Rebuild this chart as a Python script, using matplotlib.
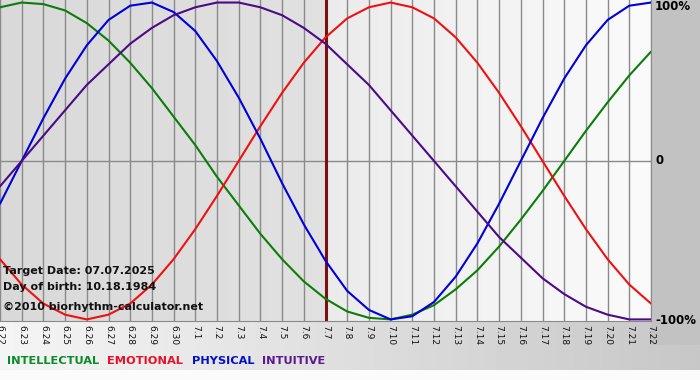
import numpy as np
import matplotlib
matplotlib.use("Agg")
import matplotlib.pyplot as plt

# days shown on the x axis (6.22 .. 7.22)
days = ["6.22", "6.23", "6.24", "6.25", "6.26", "6.27", "6.28", "6.29", "6.30",
        "7.1", "7.2", "7.3", "7.4", "7.5", "7.6", "7.7", "7.8", "7.9", "7.10",
        "7.11", "7.12", "7.13", "7.14", "7.15", "7.16", "7.17", "7.18", "7.19",
        "7.20", "7.21", "7.22"]
target_day = "7.7"

# values, -1 .. 1
physical = [-0.27, 0.00, 0.27, 0.52, 0.73, 0.89, 0.98, 1.00, 0.94, 0.82, 0.63,
            0.40, 0.14, -0.14, -0.40, -0.63, -0.82, -0.94, -1.00, -0.98, -0.89,
            -0.73, -0.52, -0.27, 0.00, 0.27, 0.52, 0.73, 0.89, 0.98, 1.00]
emotional = [-0.62, -0.78, -0.90, -0.97, -1.00, -0.97, -0.90, -0.78, -0.62, -0.43,
             -0.22, 0.00, 0.22, 0.43, 0.62, 0.78, 0.90, 0.97, 1.00, 0.97, 0.90,
             0.78, 0.62, 0.43, 0.22, 0.00, -0.22, -0.43, -0.62, -0.78, -0.90]
intellectual = [0.97, 1.00, 0.99, 0.95, 0.87, 0.76, 0.62, 0.46, 0.28, 0.10, -0.10,
                -0.28, -0.46, -0.62, -0.76, -0.87, -0.95, -0.99, -1.00, -0.97, -0.91,
                -0.81, -0.69, -0.54, -0.37, -0.19, 0.00, 0.19, 0.37, 0.54, 0.69]
intuitive = [-0.16, 0.00, 0.16, 0.32, 0.48, 0.61, 0.74, 0.84, 0.92, 0.97, 1.00,
             1.00, 0.97, 0.92, 0.84, 0.74, 0.61, 0.48, 0.32, 0.16, 0.00, -0.16,
             -0.32, -0.48, -0.61, -0.74, -0.84, -0.92, -0.97, -1.00, -1.00]

series = [("INTELLECTUAL", intellectual, "#0a7d0a"),
          ("EMOTIONAL", emotional, "#ee1111"),
          ("PHYSICAL", physical, "#0000d8"),
          ("INTUITIVE", intuitive, "#4b0a86")]
legend_colors = ["#0a8a2a", "#e8102a", "#0010c8", "#5a1a90"]

W, H = 700, 380
fig = plt.figure(figsize=(W / 100, H / 100), dpi=100)

# background (pixel coordinates)
bg = fig.add_axes([0, 0, 1, 1])
bg.set_xlim(0, W)
bg.set_ylim(H, 0)
bg.axis("off")
band = np.linspace(0.96, 0.78, 200)[None, :]
bg.imshow(np.repeat(band, 2, axis=0), cmap="gray", vmin=0, vmax=1,
          extent=(0, W, 370, 321), aspect="auto")
bg.add_patch(plt.Rectangle((651, 0), 49, 345, color="#c2c2c2", lw=0))
bg.add_patch(plt.Rectangle((0, 370), W, 10, color="#fbfbfb", lw=0))

n = len(days)
x = np.arange(n)
ti = days.index(target_day)

ax = fig.add_axes([0, 1 - 321 / H, 651 / W, 321 / H])
ax.set_facecolor("none")
ax.set_xlim(0, n - 1)
ax.set_ylim(-1.01, 1.016)

# shaded panels left / right of the target date
left = np.linspace(0.85, 0.88, 50)[None, :]
right = np.linspace(0.92, 0.98, 50)[None, :]
ax.imshow(np.repeat(left, 2, axis=0), cmap="gray", vmin=0, vmax=1,
          extent=(0, ti, -1.01, 1.016), aspect="auto", zorder=0)
ax.imshow(np.repeat(right, 2, axis=0), cmap="gray", vmin=0, vmax=1,
          extent=(ti, n - 1, -1.01, 1.016), aspect="auto", zorder=0)

for xi in x:
    ax.axvline(xi, color="#8a8a8a", lw=1.0, zorder=1)
ax.axhline(0, color="#8a8a8a", lw=1.0, zorder=1)
ax.axvline(ti, color="#7a1010", lw=2.2, zorder=2)

for name, vals, col in series:
    ax.plot(x, vals, color=col, lw=1.5, zorder=3, solid_capstyle="round",
            solid_joinstyle="round")

for s in ax.spines.values():
    s.set_visible(False)
ax.spines["bottom"].set_visible(True)
ax.spines["bottom"].set_color("#8a8a8a")
ax.spines["right"].set_visible(True)
ax.spines["right"].set_color("#8a8a8a")

ax.set_xticks(x)
ax.set_xticklabels(days, rotation=270, fontsize=6.5, color="#111111")
ax.tick_params(axis="x", length=0, pad=3)
ax.set_yticks([])

ax.set_ylim(-1.01, 1.016)

# right-hand scale labels (pixel rows from the top)
for ypx, lab in [(7, "100%"), (161, "0"), (321, "-100%")]:
    fig.text(655 / W, 1 - ypx / H, lab, fontsize=8.5, fontweight="bold",
             va="center", ha="left")

txt = dict(fontsize=8, fontweight="bold", color="#111111", va="center")
fig.text(3 / W, 1 - 271 / H, "Target Date: 07.07.2025", **txt)
fig.text(3 / W, 1 - 287 / H, "Day of birth: 10.18.1984", **txt)
fig.text(3 / W, 1 - 307 / H, "\u00a92010 biorhythm-calculator.net", **txt)

# legend as coloured words
xpos = [7, 107, 192, 262]
for (name, vals, col), lc, xp in zip(series, legend_colors, xpos):
    fig.text(xp / W, 1 - 361 / H, name, fontsize=8.2, fontweight="bold",
             color=lc, va="center", ha="left")

fig.savefig("out.png", dpi=100)
